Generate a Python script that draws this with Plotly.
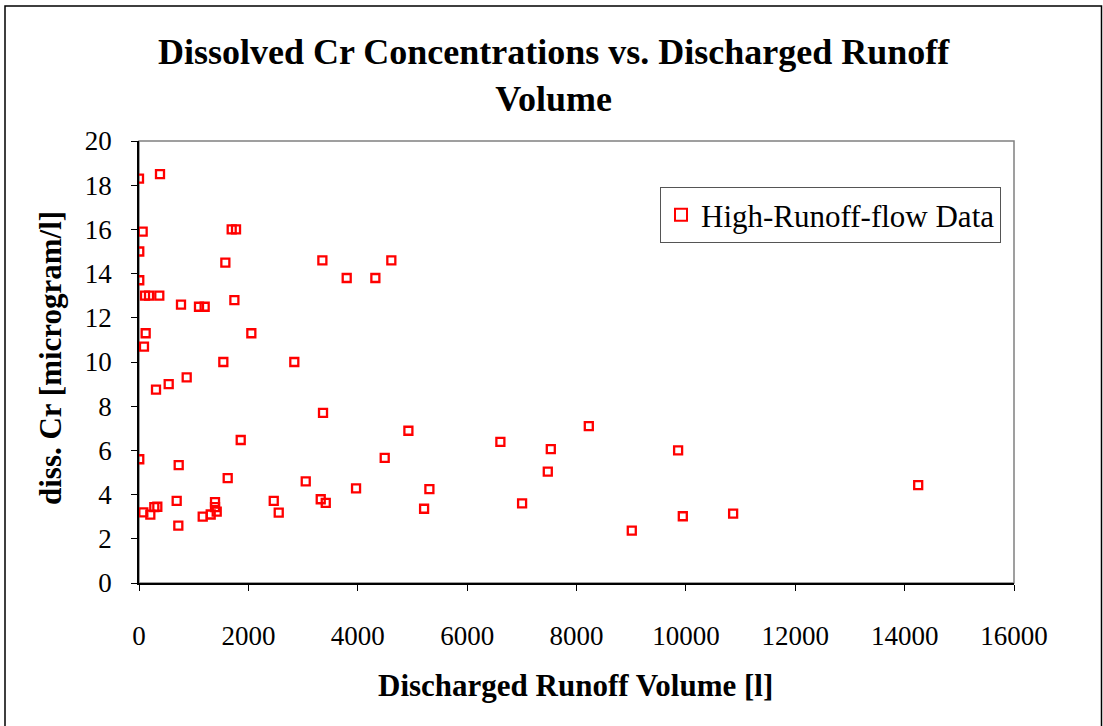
import plotly.graph_objects as go

volume_l = [0, 384, 67, 5, 1695, 1774, 1579, 3353, 4614, 3798, 4322, 5,
            110, 183, 371, 768, 1097, 1201, 1744, 122, 91, 2054, 1542, 2840,
            872, 543, 311, 3365, 1860, 5, 726, 1622, 3049, 689, 1390, 1390,
            1421, 1311, 1165, 2464, 3323, 3415, 79, 207, 280, 335, 719, 2555,
            4926, 4493, 3969, 5310, 5213, 6608, 8225, 7530, 7475, 7005, 9858,
            9011, 9944, 10864, 14248]
diss_cr = [18.3, 18.5, 15.9, 15.0, 16.0, 16.0, 14.5, 14.6, 14.6, 13.8, 13.8, 13.7,
           13.0, 13.0, 13.0, 12.6, 12.5, 12.5, 12.8, 11.3, 10.7, 11.3, 10.0, 10.0,
           9.3, 9.0, 8.75, 7.7, 6.47, 5.6, 5.33, 4.75, 4.6, 3.72, 3.66, 3.43,
           3.23, 3.1, 3.0, 3.72, 3.79, 3.63, 3.2, 3.09, 3.43, 3.45, 2.6, 3.18,
           6.89, 5.66, 4.28, 4.25, 3.36, 6.39, 7.1, 6.06, 5.04, 3.6, 6.0,
           2.37, 3.02, 3.14, 4.43]

x_ticks = [0, 2000, 4000, 6000, 8000, 10000, 12000, 14000, 16000]
y_ticks = [0, 2, 4, 6, 8, 10, 12, 14, 16, 18, 20]

FONT = "Liberation Serif, Times New Roman, serif"
W, H = 1103, 726
L, R, T, B = 139, 1014, 141, 583
pw, ph = R - L, B - T


def px(xp):
    return (xp - L) / pw


def py(yp):
    return (B - yp) / ph


fig = go.Figure()
fig.add_trace(go.Scatter(
    x=volume_l, y=diss_cr, mode="markers", name="High-Runoff-flow Data",
    marker=dict(symbol="square-open", size=8, color="#ff0000",
                line=dict(width=2.3, color="#ff0000")),
))

axis_common = dict(
    showgrid=False, zeroline=False, showline=True, linecolor="black",
    linewidth=1.5, ticks="outside", ticklen=6, tickcolor="black",
    tickfont=dict(family=FONT, size=27, color="black"), mirror=False,
)

fig.update_layout(
    width=W, height=H,
    margin=dict(l=L, r=W - R, t=T, b=H - B),
    paper_bgcolor="white", plot_bgcolor="white",
    font=dict(family=FONT, color="black"),
    xaxis=dict(range=[0, 16000], tickvals=x_ticks, ticktext=[str(v) for v in x_ticks],
               ticklabelstandoff=22, **axis_common),
    yaxis=dict(range=[0, 20], tickvals=y_ticks, ticktext=[str(v) for v in y_ticks],
               ticklabelstandoff=14, **axis_common),
    showlegend=True,
    legend=dict(x=px(1001), xanchor="right", y=py(187), yanchor="top",
                bgcolor="white", bordercolor="#555555", borderwidth=1,
                font=dict(family=FONT, size=31, color="black"),
                itemsizing="constant"),
    annotations=[
        dict(text="<b>Dissolved Cr Concentrations vs. Discharged Runoff<br>Volume</b>",
             xref="paper", yref="paper", x=px(554), y=py(75),
             xanchor="center", yanchor="middle", showarrow=False,
             font=dict(family=FONT, size=36, color="black")),
        dict(text="<b>Discharged Runoff Volume [l]</b>",
             xref="paper", yref="paper", x=px(575), y=py(685),
             xanchor="center", yanchor="middle", showarrow=False,
             font=dict(family=FONT, size=31, color="black")),
        dict(text="<b>diss. Cr [microgram/l]</b>", textangle=-90,
             xref="paper", yref="paper", x=px(50), y=py(358),
             xanchor="center", yanchor="middle", showarrow=False,
             font=dict(family=FONT, size=31, color="black")),
    ],
)

# plot-area border (gray)
fig.add_shape(type="rect", xref="paper", yref="paper", x0=0, x1=1, y0=0, y1=1,
              line=dict(color="#808080", width=1.5), layer="below")
# outer chart frame
fig.add_shape(type="rect", xref="paper", yref="paper",
              x0=px(5), x1=px(1101.5), y0=py(740), y1=py(6),
              line=dict(color="black", width=1.5))

fig.write_html("out.html", config={"displayModeBar": False},
               post_script="document.body.style.margin='0';document.body.style.overflow='hidden';")
